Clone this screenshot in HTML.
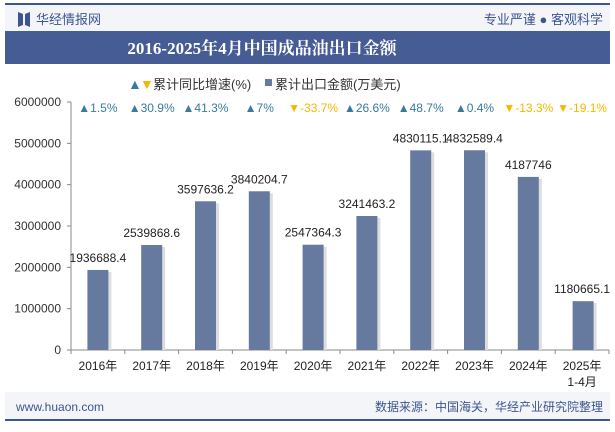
<!DOCTYPE html>
<html><head><meta charset="utf-8">
<style>
body{margin:0;width:615px;height:427px;overflow:hidden;background:#fff;font-family:"Liberation Sans","Noto Sans CJK SC",sans-serif;}
</style></head>
<body>
<svg id="c" width="615" height="427" xmlns="http://www.w3.org/2000/svg" font-family="Liberation Sans, Noto Sans CJK SC, sans-serif">
<rect x="5" y="4" width="605" height="28" fill="#f3f5f9"/>
<rect x="5" y="3" width="605" height="2" fill="#3d5590"/>
<path d="M18 12 L23 14 L23 25 L18 27 Z M25 14 L30 12 L30 27 L25 25 Z" fill="#3d5590"/>
<text x="36" y="24" font-size="13" fill="#3d5590">华经情报网</text>
<text x="603" y="24" font-size="13" fill="#3d5590" text-anchor="end">专业严谨 ● 客观科学</text>
<rect x="5" y="31" width="605" height="33" fill="#455c94"/>
<text x="262" y="54" font-size="17" font-weight="bold" fill="#fff" text-anchor="middle" font-family="Liberation Serif, Noto Serif CJK SC, serif">2016-2025年4月中国成品油出口金额</text>
<g>
<text x="128" y="89" font-size="14" fill="#3a7a9a">▲</text>
<text x="140" y="89" font-size="14" fill="#f5b800">▼</text>
<text x="153" y="89" font-size="13" fill="#333">累计同比增速(%)</text>
<rect x="265" y="79" width="7" height="7" fill="#667aa0"/>
<text x="275" y="89" font-size="13" fill="#333">累计出口金额(万美元)</text>
</g>
<rect x="5" y="392" width="605" height="28" fill="#f3f5f9"/>
<rect x="5" y="419" width="605" height="2" fill="#3d5590"/>
<text x="16" y="411" font-size="12" fill="#3d5590">www.huaon.com</text>
<text x="603" y="411" font-size="12" fill="#3d5590" text-anchor="end">数据来源：中国海关，华经产业研究院整理</text>
<g id="plot"></g>
</svg>
<script>
const categories=["2016年","2017年","2018年","2019年","2020年","2021年","2022年","2023年","2024年","2025年"];
const values=[1936688.4,2539868.6,3597636.2,3840204.7,2547364.3,3241463.2,4830115.1,4832589.4,4187746,1180665.1];
const valueLabels=["1936688.4","2539868.6","3597636.2","3840204.7","2547364.3","3241463.2","4830115.1","4832589.4","4187746","1180665.1"];
const growth=[1.5,30.9,41.3,7,-33.7,26.6,48.7,0.4,-13.3,-19.1];
const yTicks=[0,1000000,2000000,3000000,4000000,5000000,6000000];
const NS="http://www.w3.org/2000/svg";
const g=document.getElementById('plot');
const x0=71,x1=609,y0=350,y1=102,yMax=6000000;
const band=(x1-x0)/categories.length;
const y=v=>y0-(v/yMax)*(y0-y1);
const xc=i=>x0+band*(i+0.5);
function mk(t,a,txt){const e=document.createElementNS(NS,t);for(const k in a)e.setAttribute(k,a[k]);if(txt!==undefined)e.textContent=txt;g.appendChild(e);return e;}
let e=mk('line',{x1:x0,y1:y1,x2:x0,y2:y0,stroke:'#888'});


e=mk('line',{x1:x0,y1:y0,x2:x1,y2:y0,stroke:'#888'});


yTicks.forEach(t=>{
 let l=mk('line',{x1:x0-4,y1:y(t),x2:x0,y2:y(t),stroke:'#888'});
 
 
 let tx=mk('text',{x:x0-10,y:y(t)+4,'font-size':12,fill:'#333','text-anchor':'end'},String(t));
 
 
});
for(let i=0;i<=categories.length;i++){
 let l=mk('line',{x1:x0+band*i,y1:y0,x2:x0+band*i,y2:y0+4,stroke:'#888'});
 
 
}
categories.forEach((c,i)=>{
 const bw=21,bx=xc(i)-bw/2+(i===9?1:0);
 let sh=mk('rect',{x:bx+3,y:y(values[i])+2,width:bw,height:y0-y(values[i])-2,fill:'#ddd'});
 
 
 let r=mk('rect',{x:bx,y:y(values[i]),width:bw,height:y0-y(values[i]),fill:'#667aa0'});
 
 
 let vl=mk('text',{x:xc(i),y:y(values[i])-8,'font-size':12,fill:'#222','text-anchor':'middle'},valueLabels[i]);
 
 
 let cl=mk('text',{x:xc(i),y:y0+20,'font-size':12,fill:'#222','text-anchor':'middle'},c);
 
 
 if(i===9){let s=mk('text',{x:xc(i),y:y0+36,'font-size':12,fill:'#222','text-anchor':'middle'},'1-4月');
 
 }
 const up=growth[i]>=0;
 let gl=mk('text',{x:xc(i),y:112,'font-size':12,fill:up?'#3a7a9a':'#f5b800','text-anchor':'middle'},(up?'▲':'▼')+growth[i]+'%');
 
 
});
</script>
</body></html>
